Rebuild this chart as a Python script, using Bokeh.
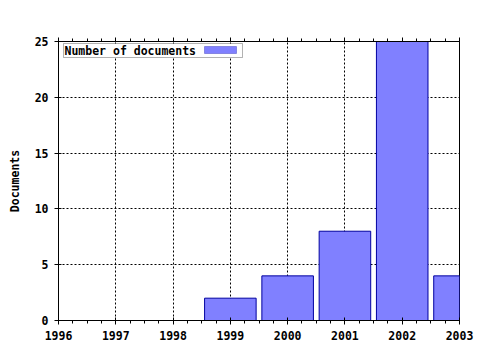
from bokeh.plotting import figure
from bokeh.models import (Range1d, SingleIntervalTicker, LinearAxis, Label,
                          BoxAnnotation, FixedTicker)
from bokeh.embed import file_html
from bokeh.resources import INLINE

years = [1999, 2000, 2001, 2002, 2003]
documents = [2, 4, 8, 25, 4]
x_ticks = [1996, 1997, 1998, 1999, 2000, 2001, 2002, 2003]
y_ticks = [0, 5, 10, 15, 20, 25]
series_name = "Number of documents"

FONT = "DejaVu Sans Mono"

p = figure(width=480, height=350, output_backend="svg", toolbar_location=None,
           x_range=Range1d(1996, 2003), y_range=Range1d(0, 25),
           frame_width=401, frame_height=279,
           min_border_left=58, min_border_right=21, min_border_top=41,
           min_border_bottom=30)
p.background_fill_color = "white"
p.border_fill_color = "white"
p.outline_line_color = "black"
p.outline_line_width = 1

p.vbar(x=years, top=documents, width=0.9, bottom=0,
       fill_color="#8080ff", line_color="#0000a0", line_width=1)

# axes
p.xaxis.ticker = SingleIntervalTicker(interval=1, num_minor_ticks=4)
p.yaxis.ticker = FixedTicker(ticks=y_ticks)
for ax in (p.xaxis[0], p.yaxis[0]):
    ax.axis_line_color = "black"
    ax.major_tick_line_color = "black"
    ax.minor_tick_line_color = "black"
    ax.major_label_text_font = FONT
    ax.major_label_text_font_style = "bold"
    ax.major_label_text_font_size = "11.5px"
    ax.major_label_text_color = "black"
    ax.major_tick_in = 3
    ax.major_tick_out = 4
p.xaxis.minor_tick_in = 0
p.xaxis.minor_tick_out = 3
p.xaxis.major_label_standoff = 6
p.yaxis.minor_tick_line_color = None
p.yaxis.major_label_standoff = 6
p.xaxis.major_label_overrides = {y: str(y) for y in x_ticks}
p.yaxis.axis_label = "Documents"
p.yaxis.axis_label_text_font = FONT
p.yaxis.axis_label_text_font_style = "bold"
p.yaxis.axis_label_text_font_size = "11.5px"
p.yaxis.axis_label_text_color = "black"
p.yaxis.axis_label_standoff = 10

top_ax = LinearAxis(ticker=SingleIntervalTicker(interval=1, num_minor_ticks=4),
                    major_label_text_font_size="0px", major_label_text_color=None,
                    major_tick_in=0, major_tick_out=4, minor_tick_in=0,
                    minor_tick_out=3, axis_line_color="black")
p.add_layout(top_ax, "above")

# grid
p.xgrid.ticker = FixedTicker(ticks=x_ticks)
p.ygrid.ticker = FixedTicker(ticks=y_ticks)
for g in (p.xgrid[0], p.ygrid[0]):
    g.grid_line_color = "black"
    g.grid_line_dash = "2 2"
    g.grid_line_width = 1

# legend (box with label and swatch to the right)
p.add_layout(BoxAnnotation(left=5, right=184, top=277, bottom=263,
                           left_units="screen", right_units="screen",
                           top_units="screen", bottom_units="screen",
                           fill_color="white", fill_alpha=1,
                           line_color="black", line_width=1))
p.add_layout(Label(x=6, y=270, x_units="screen", y_units="screen",
                   text=series_name, text_font=FONT, text_font_style="bold",
                   text_font_size="11.5px", text_baseline="middle",
                   text_color="black"))
p.add_layout(BoxAnnotation(left=146, right=178, top=274, bottom=267,
                           left_units="screen", right_units="screen",
                           top_units="screen", bottom_units="screen",
                           fill_color="#8080ff", fill_alpha=1,
                           line_color="#0000a0", line_width=1))

open("out.html", "w").write(file_html(p, INLINE))
